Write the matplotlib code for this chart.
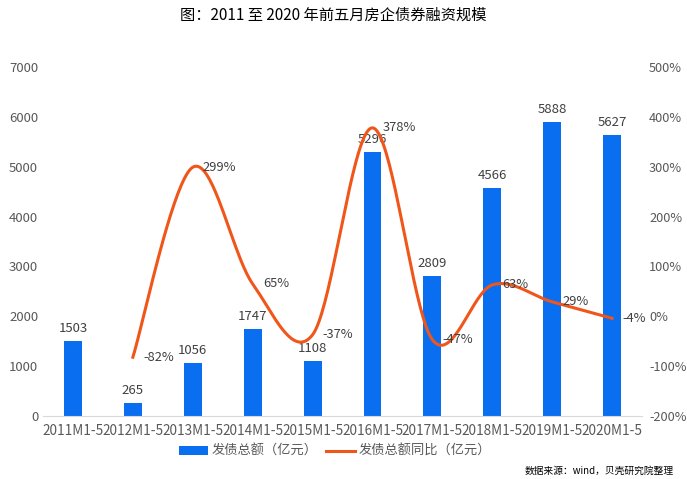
import numpy as np
import matplotlib.pyplot as plt
import matplotlib
from matplotlib.ticker import FuncFormatter

matplotlib.rcParams['font.family'] = ['Noto Sans CJK SC', 'DejaVu Sans']
matplotlib.rcParams['axes.unicode_minus'] = False

# 數據
years = ['2011M1-5', '2012M1-5', '2013M1-5', '2014M1-5', '2015M1-5',
         '2016M1-5', '2017M1-5', '2018M1-5', '2019M1-5', '2020M1-5']
amount = [1503, 265, 1056, 1747, 1108, 5296, 2809, 4566, 5888, 5627]
yoy = [None, -82, 299, 65, -37, 378, -47, 63, 29, -4]

BLUE = '#0A6EF0'
ORANGE = '#F0561A'
GREY = '#595959'


def catmull_rom(xs, ys, n=40):
    # 平滑曲線（類似 Excel 平滑線）
    px = [xs[0]] + list(xs) + [xs[-1]]
    py = [ys[0]] + list(ys) + [ys[-1]]
    out_x, out_y = [], []
    for i in range(1, len(px) - 2):
        x0, x1, x2, x3 = px[i - 1], px[i], px[i + 1], px[i + 2]
        y0, y1, y2, y3 = py[i - 1], py[i], py[i + 1], py[i + 2]
        # Bezier control points
        c1x, c1y = x1 + (x2 - x0) / 6, y1 + (y2 - y0) / 6
        c2x, c2y = x2 - (x3 - x1) / 6, y2 - (y3 - y1) / 6
        t = np.linspace(0, 1, n)
        bx = (1 - t) ** 3 * x1 + 3 * (1 - t) ** 2 * t * c1x + 3 * (1 - t) * t ** 2 * c2x + t ** 3 * x2
        by = (1 - t) ** 3 * y1 + 3 * (1 - t) ** 2 * t * c1y + 3 * (1 - t) * t ** 2 * c2y + t ** 3 * y2
        out_x.extend(bx)
        out_y.extend(by)
    return np.array(out_x), np.array(out_y)


fig = plt.figure(figsize=(6.87, 4.79), dpi=100)
ax = fig.add_axes([0.0626, 0.1315, 0.872, 0.7286])
ax2 = ax.twinx()

x = np.arange(len(years))
bars = ax.bar(x, amount, width=0.3, color=BLUE, zorder=2, label='发债总额（亿元）')
for xi, v in zip(x, amount):
    ax.text(xi, v + 120, str(v), ha='center', va='bottom', fontsize=9.5, color='#404040')

ax.set_ylim(0, 7000)
ax.set_xlim(-0.5, len(years) - 0.5)
ax.set_yticks(range(0, 7001, 1000))
ax.set_xticks(x)
ax.set_xticklabels(years, fontsize=9.8, color=GREY)
ax.tick_params(axis='y', length=0, labelsize=9.5, labelcolor=GREY)
ax.tick_params(axis='x', length=0, pad=6)

lx = [xi for xi, v in zip(x, yoy) if v is not None]
ly = [v for v in yoy if v is not None]
sx, sy = catmull_rom(lx, ly)
ax2.plot(sx, sy, color=ORANGE, linewidth=2.2, zorder=3, label='发债总额同比（亿元）')
for xi, v in zip(lx, ly):
    ax2.text(xi + 0.17, v, f'{v}%', ha='left', va='center', fontsize=9.3, color='#404040')

ax2.set_ylim(-200, 500)
ax2.set_yticks(range(-200, 501, 100))
ax2.yaxis.set_major_formatter(FuncFormatter(lambda v, p: f'{int(v)}%'))
ax2.tick_params(axis='y', length=0, labelsize=9.2, labelcolor=GREY, pad=5)

for a in (ax, ax2):
    for s in ['top', 'left', 'right']:
        a.spines[s].set_visible(False)
ax.spines['bottom'].set_color('#D9D9D9')
ax2.spines['bottom'].set_visible(False)

h1, l1 = ax.get_legend_handles_labels()
h2, l2 = ax2.get_legend_handles_labels()
fig.legend(h1 + h2, l1 + l2, loc='center', bbox_to_anchor=(0.488, 0.057), ncol=2,
           frameon=False, fontsize=9.5, handlelength=2.2, columnspacing=0.6,
           handletextpad=0.3, labelcolor=GREY)

fig.text(0.485, 0.968, '图：2011 至 2020 年前五月房企债券融资规模', ha='center', va='center',
         fontsize=11, color='black')
fig.text(0.98, 0.018, '数据来源：wind，贝壳研究院整理', ha='right', va='center',
         fontsize=7, color='black')

plt.savefig('out.png', dpi=100)
plt.close()
